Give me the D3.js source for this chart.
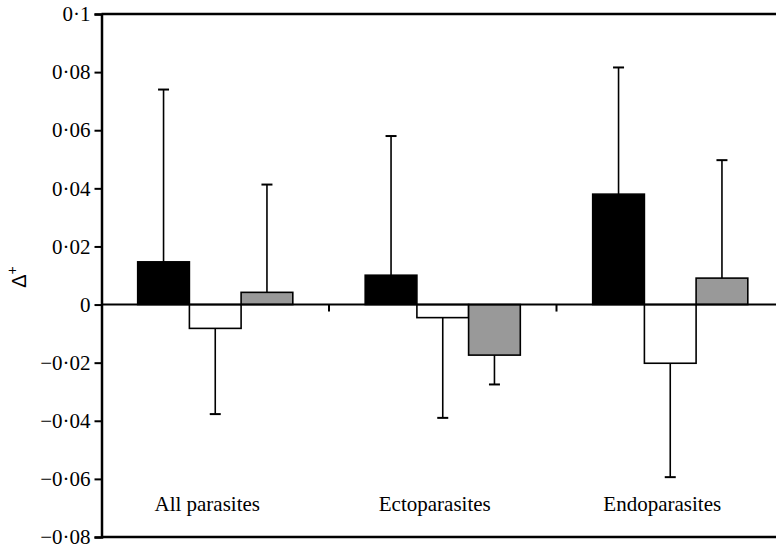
<!DOCTYPE html>
<html>
<head>
<meta charset="utf-8">
<script src="https://cdn.jsdelivr.net/npm/d3@7"></script>
<style>
  body { margin: 0; background: #fff; }
  svg text { font-family: "Liberation Serif", "Times New Roman", serif; }
</style>
</head>
<body>
<svg id="chart" width="776" height="546"></svg>
<script>
// Datos del gráfico
const categorias = ["All parasites", "Ectoparasites", "Endoparasites"];
const series = ["negro", "blanco", "gris"];
const valoresNegro = [0.0147, 0.0101, 0.038];
const valoresBlanco = [-0.0082, -0.0045, -0.0202];
const valoresGris = [0.0042, -0.0174, 0.0091];
// Extremo de cada barra de error
const errorNegro = [0.074, 0.058, 0.0816];
const errorBlanco = [-0.0377, -0.039, -0.0594];
const errorGris = [0.0413, -0.0275, 0.0497];
const ticksY = [-0.08, -0.06, -0.04, -0.02, 0, 0.02, 0.04, 0.06, 0.08, 0.1];

const colores = { negro: "#000", blanco: "#fff", gris: "#999" };
const valores = { negro: valoresNegro, blanco: valoresBlanco, gris: valoresGris };
const errores = { negro: errorNegro, blanco: errorBlanco, gris: errorGris };

const izq = 101.5, arriba = 14, abajo = 537, der = 784;
const serif = "'Liberation Serif', 'Times New Roman', serif";

const svg = d3.select("#chart");

const y = d3.scaleLinear().domain([-0.08, 0.1]).range([abajo, arriba]);
const x0 = d3.scaleBand().domain(categorias).range([izq, der]).paddingInner(0).paddingOuter(0);
const x1 = d3.scaleBand().domain(series).range([0, x0.bandwidth()]).paddingInner(0).paddingOuter(0.7);

// Formato de los números con punto medio
const formato = d => {
    if (d === 0) return "0";
    const s = d3.format(".2~f")(Math.abs(d)).replace(".", "·");
    return (d < 0 ? "\u2212" : "") + s;
};

// Barras y barras de error
const datos = [];
categorias.forEach((c, i) => {
    series.forEach(s => {
        datos.push({ cat: c, serie: s, valor: valores[s][i], error: errores[s][i] });
    });
});

const centro = d => x0(d.cat) + x1(d.serie) + x1.bandwidth() / 2;

const g = svg.append("g");

g.selectAll(".err")
    .data(datos)
    .enter()
    .append("line")
    .attr("x1", centro)
    .attr("x2", centro)
    .attr("y1", d => y(d.valor))
    .attr("y2", d => y(d.error))
    .attr("stroke", "#000")
    .attr("stroke-width", 1.6);

g.selectAll(".cap")
    .data(datos)
    .enter()
    .append("line")
    .attr("x1", d => centro(d) - 5.5)
    .attr("x2", d => centro(d) + 5.5)
    .attr("y1", d => y(d.error))
    .attr("y2", d => y(d.error))
    .attr("stroke", "#000")
    .attr("stroke-width", 2);

g.selectAll(".bar")
    .data(datos)
    .enter()
    .append("rect")
    .attr("x", d => x0(d.cat) + x1(d.serie))
    .attr("width", x1.bandwidth())
    .attr("y", d => y(Math.max(0, d.valor)))
    .attr("height", d => Math.abs(y(d.valor) - y(0)))
    .attr("fill", d => colores[d.serie])
    .attr("stroke", "#000")
    .attr("stroke-width", 1.6);

// Eje horizontal en cero con marcas hacia abajo
svg.append("line")
    .attr("x1", izq).attr("x2", der)
    .attr("y1", y(0)).attr("y2", y(0))
    .attr("stroke", "#000").attr("stroke-width", 2);

svg.selectAll(".marcaX")
    .data(categorias.slice(1))
    .enter()
    .append("line")
    .attr("x1", d => x0(d)).attr("x2", d => x0(d))
    .attr("y1", y(0)).attr("y2", y(0) + 7)
    .attr("stroke", "#000").attr("stroke-width", 2);

// Bordes superior e inferior
[arriba, abajo].forEach(yy => {
    svg.append("line")
        .attr("x1", izq).attr("x2", der)
        .attr("y1", yy).attr("y2", yy)
        .attr("stroke", "#000").attr("stroke-width", 2.5);
});

// Eje Y
const ejeY = svg.append("g")
    .attr("transform", `translate(${izq},0)`)
    .call(d3.axisLeft(y).tickValues(ticksY).tickFormat(formato).tickSize(7).tickPadding(4));
ejeY.attr("font-family", null);
ejeY.select(".domain").attr("stroke-width", 2.5);
ejeY.selectAll(".tick line").attr("stroke-width", 2);
ejeY.selectAll("text")
    .style("font-family", serif)
    .style("font-size", "21px")
    .attr("fill", "#000");

// Etiquetas de categoría
svg.selectAll(".etiqueta")
    .data(categorias)
    .enter()
    .append("text")
    .attr("x", d => x0(d) + x0.bandwidth() / 2 - 8)
    .attr("y", 511)
    .attr("text-anchor", "middle")
    .style("font-family", serif)
    .style("font-size", "21px")
    .text(d => d);

// Título del eje Y
const titulo = svg.append("text")
    .attr("transform", "translate(26,277) rotate(-90)")
    .attr("text-anchor", "middle")
    .style("font-family", "'Liberation Sans', Arial, sans-serif")
    .style("font-size", "20px");
titulo.append("tspan").text("Δ");
titulo.append("tspan").attr("dy", -9).style("font-size", "14px").text("+");
</script>
</body>
</html>
